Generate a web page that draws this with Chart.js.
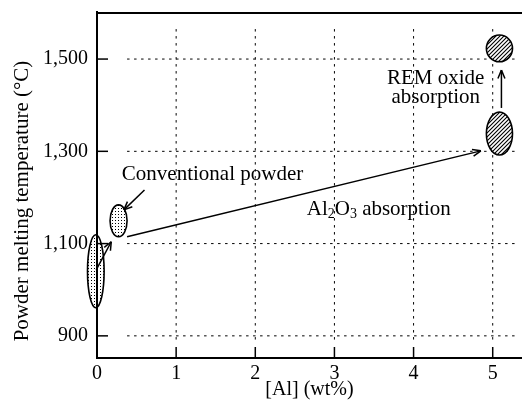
<!DOCTYPE html>
<html>
<head>
<meta charset="utf-8">
<script src="https://cdn.jsdelivr.net/npm/chart.js@4/dist/chart.umd.min.js"></script>
<style>
    html, body { margin: 0; padding: 0; background: #fff; }
    #wrap { width: 522px; height: 404px; position: relative; }
</style>
</head>
<body>
<div id="wrap"><canvas id="meltChart"></canvas></div>
<script>
(function () {
    const xTicks = [0, 1, 2, 3, 4, 5];
    const yTicks = [900, 1100, 1300, 1500];

    // regions: [Al min, Al max, T min, T max]
    const stippledRegions = [
        [-0.12, 0.09, 961, 1119],
        [0.165, 0.38, 1115, 1184]
    ];
    const hatchedRegions = [
        [4.92, 5.25, 1494, 1552],
        [4.92, 5.25, 1292, 1385]
    ];

    // arrows: [Al from, T from, Al to, T to]
    const arrows = [
        [0.38, 1115, 4.85, 1301],
        [0.60, 1216, 0.34, 1173],
        [-0.01, 1043, 0.18, 1104],
        [5.11, 1394, 5.11, 1476]
    ];

    const FONT = "'Liberation Serif', 'Times New Roman', serif";
    const yTitle = 'Powder melting temperature (°C)';

    const notes = [
        { parts: [{ t: 'Conventional powder' }], x: 1.46, y: 1249 },
        { parts: [{ t: 'Al' }, { t: '2', sub: true }, { t: 'O' }, { t: '3', sub: true }, { t: ' absorption' }], x: 3.56, y: 1173 },
        { parts: [{ t: 'REM oxide' }], x: 4.28, y: 1457 },
        { parts: [{ t: 'absorption' }], x: 4.28, y: 1416 }
    ];

    const makePattern = (ctx, kind) => {
        const c = document.createElement('canvas');
        const g = c.getContext('2d');
        if (kind === 'dots') {
            c.width = 3; c.height = 3;
            g.fillStyle = '#000';
            g.fillRect(1, 1, 1, 1);
        } else {
            c.width = 4; c.height = 4;
            g.strokeStyle = '#000';
            g.lineWidth = 1.1;
            g.beginPath();
            g.moveTo(-1, 5); g.lineTo(5, -1);
            g.moveTo(-1, 1); g.lineTo(1, -1);
            g.moveTo(3, 5); g.lineTo(5, 3);
            g.stroke();
        }
        return ctx.createPattern(c, 'repeat');
    };

    const seg = (ctx, x1, y1, x2, y2) => {
        ctx.beginPath();
        ctx.moveTo(x1, y1);
        ctx.lineTo(x2, y2);
        ctx.stroke();
    };

    const ellipse = (ctx, x, y, r, fill, whiteFirst) => {
        const px1 = x.getPixelForValue(r[0]), px2 = x.getPixelForValue(r[1]);
        const py1 = y.getPixelForValue(r[3]), py2 = y.getPixelForValue(r[2]);
        const cx = (px1 + px2) / 2, cy = (py1 + py2) / 2;
        ctx.beginPath();
        ctx.ellipse(cx, cy, (px2 - px1) / 2, (py2 - py1) / 2, 0, 0, Math.PI * 2);
        if (whiteFirst) {
            ctx.fillStyle = '#fff';
            ctx.fill();
        }
        ctx.fillStyle = fill;
        ctx.fill();
        ctx.lineWidth = 1.6;
        ctx.strokeStyle = '#000';
        ctx.stroke();
    };

    const sketchPlugin = {
        id: 'sketch',
        beforeDatasetsDraw(chart) {
            const { ctx, chartArea: area, scales: { x, y } } = chart;
            ctx.save();
            ctx.strokeStyle = '#000';

            // top frame line
            ctx.lineWidth = 2;
            seg(ctx, area.left - 1, area.top + 1, area.right, area.top + 1);

            // inward tick marks
            ctx.lineWidth = 1.5;
            yTicks.forEach(v => {
                const py = y.getPixelForValue(v);
                seg(ctx, area.left, py, area.left + 11, py);
            });
            xTicks.forEach(v => {
                const px = x.getPixelForValue(v);
                seg(ctx, px, area.bottom, px, area.bottom - 11);
            });

            // dotted grid
            ctx.lineWidth = 1;
            ctx.setLineDash([2.5, 4.5]);
            xTicks.slice(1).forEach(v => {
                const px = x.getPixelForValue(v);
                seg(ctx, px, y.getPixelForValue(1565), px, y.getPixelForValue(885));
            });
            yTicks.forEach(v => {
                const py = y.getPixelForValue(v);
                seg(ctx, x.getPixelForValue(0.38), py, x.getPixelForValue(5.3), py);
            });
            ctx.setLineDash([]);

            const dots = makePattern(ctx, 'dots');
            const hatch = makePattern(ctx, 'hatch');
            stippledRegions.forEach(r => ellipse(ctx, x, y, r, dots, false));
            hatchedRegions.forEach(r => ellipse(ctx, x, y, r, hatch, true));
            ctx.restore();
        },
        afterDatasetsDraw(chart) {
            const { ctx, scales: { x, y } } = chart;
            ctx.save();
            ctx.strokeStyle = '#000';
            ctx.lineWidth = 1.5;
            arrows.forEach(a => {
                const x1 = x.getPixelForValue(a[0]), y1 = y.getPixelForValue(a[1]);
                const x2 = x.getPixelForValue(a[2]), y2 = y.getPixelForValue(a[3]);
                const ang = Math.atan2(y2 - y1, x2 - x1);
                const len = 9, spread = 0.4;
                seg(ctx, x2, y2, x2 - len * Math.cos(ang - spread), y2 - len * Math.sin(ang - spread));
                seg(ctx, x2, y2, x2 - len * Math.cos(ang + spread), y2 - len * Math.sin(ang + spread));
            });

            ctx.fillStyle = '#000';
            ctx.textBaseline = 'middle';
            ctx.textAlign = 'left';
            notes.forEach(n => {
                const widths = n.parts.map(p => {
                    ctx.font = (p.sub ? '14px ' : '21px ') + FONT;
                    return ctx.measureText(p.t).width;
                });
                const total = widths.reduce((s, w) => s + w, 0);
                let px = x.getPixelForValue(n.x) - total / 2;
                const py = y.getPixelForValue(n.y);
                n.parts.forEach((p, i) => {
                    ctx.font = (p.sub ? '14px ' : '21px ') + FONT;
                    ctx.fillText(p.t, px, p.sub ? py + 4 : py);
                    px += widths[i];
                });
            });

            // y axis title, sitting a little below the plot centre as in the original
            ctx.translate(22, 201);
            ctx.rotate(-Math.PI / 2);
            ctx.textAlign = 'center';
            ctx.font = '21px ' + FONT;
            ctx.fillText(yTitle, 0, 0);
            ctx.restore();
        }
    };

    const arrowData = arrows.map(a => ({
        data: [{ x: a[0], y: a[1] }, { x: a[2], y: a[3] }],
        showLine: true,
        borderColor: '#000',
        borderWidth: 1.5,
        pointRadius: 0,
        clip: false
    }));

    new Chart(document.getElementById('meltChart'), {
        type: 'scatter',
        data: { datasets: arrowData },
        options: {
            responsive: true,
            maintainAspectRatio: false,
            animation: false,
            layout: { padding: { top: 12, right: 0, bottom: 0, left: 0 } },
            plugins: {
                legend: { display: false },
                tooltip: { enabled: false }
            },
            scales: {
                x: {
                    type: 'linear',
                    min: 0,
                    max: 5.37,
                    afterBuildTicks: s => { s.ticks = xTicks.map(v => ({ value: v })); },
                    afterFit: s => { s.height = 46; s.paddingLeft = 0; s.paddingRight = 0; },
                    grid: { display: false, drawTicks: false },
                    border: { display: true, color: '#000', width: 2 },
                    ticks: {
                        color: '#000',
                        autoSkip: false,
                        maxRotation: 0,
                        padding: 4,
                        font: { family: FONT, size: 20 }
                    },
                    title: {
                        display: true,
                        text: '[Al] (wt%)',
                        color: '#000',
                        font: { family: FONT, size: 20 },
                        padding: { top: 0, bottom: 2 }
                    }
                },
                y: {
                    type: 'linear',
                    min: 852,
                    max: 1602,
                    afterBuildTicks: s => { s.ticks = yTicks.map(v => ({ value: v })); },
                    afterFit: s => { s.width = 97; s.paddingTop = 0; s.paddingBottom = 0; },
                    grid: { display: false, drawTicks: false },
                    border: { display: true, color: '#000', width: 2 },
                    ticks: {
                        color: '#000',
                        autoSkip: false,
                        padding: 9,
                        font: { family: FONT, size: 20 },
                        callback: v => v.toLocaleString('en-US')
                    },
                    title: { display: false }
                }
            }
        },
        plugins: [sketchPlugin]
    });
})();
</script>
</body>
</html>
